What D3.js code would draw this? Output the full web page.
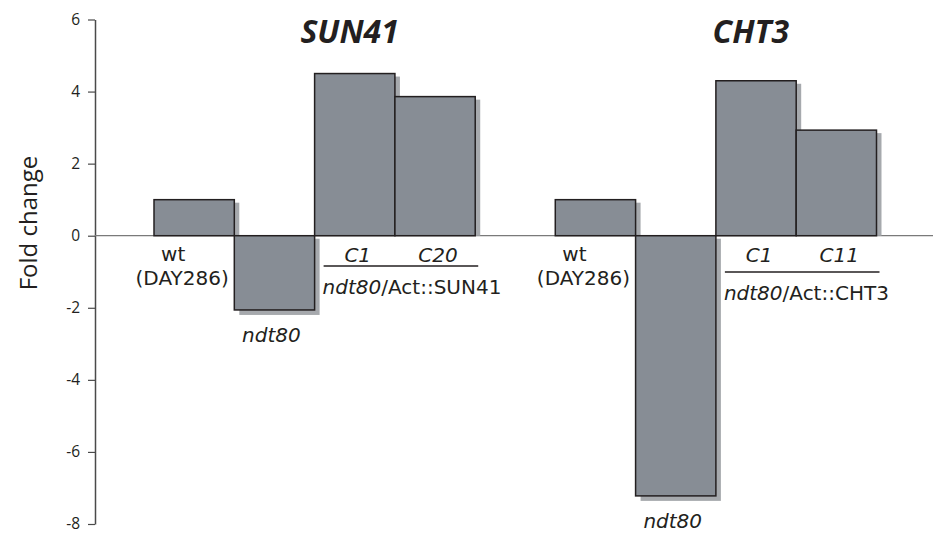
<!DOCTYPE html>
<html>
<head>
<meta charset="utf-8">
<script src="https://cdn.jsdelivr.net/npm/d3@7"></script>
<style>
  body { margin: 0; background: #fff; }
  svg { display: block; }
</style>
</head>
<body>
<svg id="chart" width="933" height="533"></svg>
<script>
// Fold change of SUN41 and CHT3 expression per strain
const genes = ["SUN41", "CHT3"];
const samples = ["wt", "ndt80", "comp1", "comp2"];
const sun41Values = [1.0, -2.06, 4.5, 3.86];
const cht3Values = [1.0, -7.22, 4.3, 2.93];
const complementLabels = { SUN41: ["C1", "C20"], CHT3: ["C1", "C11"] };
const constructLabels = { SUN41: "/Act::SUN41", CHT3: "/Act::CHT3" };
const yTicks = [-8, -6, -4, -2, 0, 2, 4, 6];

const valuesByGene = { SUN41: sun41Values, CHT3: cht3Values };

// Layout
const width = 933, height = 533;
const axisX = 95;
const groupGap = 80;
const ruleLayout = { SUN41: { ruleY: 266, textY: 294 }, CHT3: { ruleY: 272, textY: 300 } };

const labelFont = "'DejaVu Sans', Verdana, sans-serif";
const axisFont = "'Open Sans', 'Noto Sans', sans-serif";
const ink = "#231f20";
const barFill = "#878d95";
const shadowFill = "#a6a9ad";

const svg = d3.select("#chart");

const y = d3.scaleLinear().domain([-8, 6]).range([524, 19.5]);
const x0 = d3.scaleBand()
  .domain(genes)
  .range([154, 876.5])
  .paddingInner(groupGap / 401)
  .paddingOuter(0);
const x1 = d3.scaleBand().domain(samples).range([0, x0.bandwidth()]).padding(0);
const y0 = y(0);

// Y axis
const yAxis = d3.axisLeft(y)
  .tickValues(yTicks)
  .tickSize(7)
  .tickSizeOuter(0)
  .tickPadding(8)
  .tickFormat(d => d.toString());

const gAxis = svg.append("g")
  .attr("transform", `translate(${axisX},0)`)
  .call(yAxis);
gAxis.select(".domain").attr("stroke", "#4a4a4a").attr("stroke-width", 1.5);
gAxis.selectAll(".tick line").attr("stroke", "#4a4a4a").attr("stroke-width", 1.2);
gAxis.selectAll(".tick text")
  .attr("fill", ink)
  .style("font-family", axisFont)
  .style("font-size", "15.5px");

// Axis title
svg.append("text")
  .attr("transform", `translate(37,223) rotate(-90)`)
  .attr("text-anchor", "middle")
  .attr("fill", ink)
  .style("font-family", axisFont)
  .style("font-size", "24px")
  .text("Fold change");

// Zero baseline
svg.append("line")
  .attr("x1", axisX).attr("x2", width)
  .attr("y1", y0).attr("y2", y0)
  .attr("stroke", "#7a7a7a")
  .attr("stroke-width", 1.2);

genes.forEach(gene => {
  const gx = x0(gene);
  const vals = valuesByGene[gene];
  const rows = samples.map((s, i) => ({ sample: s, value: vals[i] }));
  const g = svg.append("g").attr("transform", `translate(${gx},0)`);

  // drop shadows
  g.selectAll("rect.shadow")
    .data(rows)
    .join("rect")
    .attr("class", "shadow")
    .attr("x", d => x1(d.sample) + 5)
    .attr("y", d => Math.min(y(d.value), y0) + 3)
    .attr("width", x1.bandwidth())
    .attr("height", d => Math.abs(y(d.value) - y0) + (d.value < 0 ? 2 : -3))
    .attr("fill", shadowFill);

  // bars
  g.selectAll("rect.bar")
    .data(rows)
    .join("rect")
    .attr("class", "bar")
    .attr("x", d => x1(d.sample))
    .attr("y", d => Math.min(y(d.value), y0))
    .attr("width", x1.bandwidth())
    .attr("height", d => Math.abs(y(d.value) - y0))
    .attr("fill", barFill)
    .attr("stroke", ink)
    .attr("stroke-width", 1.5);

  const cx = s => x1(s) + x1.bandwidth() / 2;

  // wild-type label
  g.append("text")
    .attr("x", cx("wt") - 21).attr("y", 261)
    .attr("text-anchor", "middle")
    .attr("fill", ink)
    .style("font-family", labelFont).style("font-size", "20px")
    .text("wt");
  g.append("text")
    .attr("x", cx("wt") - 12).attr("y", 285)
    .attr("text-anchor", "middle")
    .attr("fill", ink)
    .style("font-family", labelFont).style("font-size", "20px")
    .text("(DAY286)");

  // mutant label under its bar
  g.append("text")
    .attr("x", cx("ndt80") - 3).attr("y", y(vals[1]) + 32)
    .attr("text-anchor", "middle")
    .attr("fill", ink)
    .style("font-family", labelFont).style("font-size", "20px")
    .style("font-style", "italic")
    .text("ndt80");

  // complemented strains
  ["comp1", "comp2"].forEach((s, i) => {
    g.append("text")
      .attr("x", cx(s) + 3).attr("y", 262)
      .attr("text-anchor", "middle")
      .attr("fill", ink)
      .style("font-family", labelFont).style("font-size", "20px")
      .style("font-style", "italic")
      .text(complementLabels[gene][i]);
  });

  const lay = ruleLayout[gene];
  const ruleStart = x1("comp1") + 9;
  const ruleEnd = x1("comp2") + x1.bandwidth() + 3;
  g.append("line")
    .attr("x1", ruleStart).attr("x2", ruleEnd)
    .attr("y1", lay.ruleY).attr("y2", lay.ruleY)
    .attr("stroke", ink).attr("stroke-width", 1.5);

  const t = g.append("text")
    .attr("x", ruleStart - 1).attr("y", lay.textY)
    .attr("fill", ink)
    .style("font-family", labelFont).style("font-size", "20px");
  t.append("tspan").style("font-style", "italic").text("ndt80");
  t.append("tspan").text(constructLabels[gene]);

  // gene title
  g.append("text")
    .attr("x", x0.bandwidth() / 2 + 35).attr("y", 43)
    .attr("text-anchor", "middle")
    .attr("fill", ink)
    .style("font-family", axisFont).style("font-size", "32px")
    .style("font-weight", "bold").style("font-style", "italic")
    .text(gene);
});
</script>
</body>
</html>
